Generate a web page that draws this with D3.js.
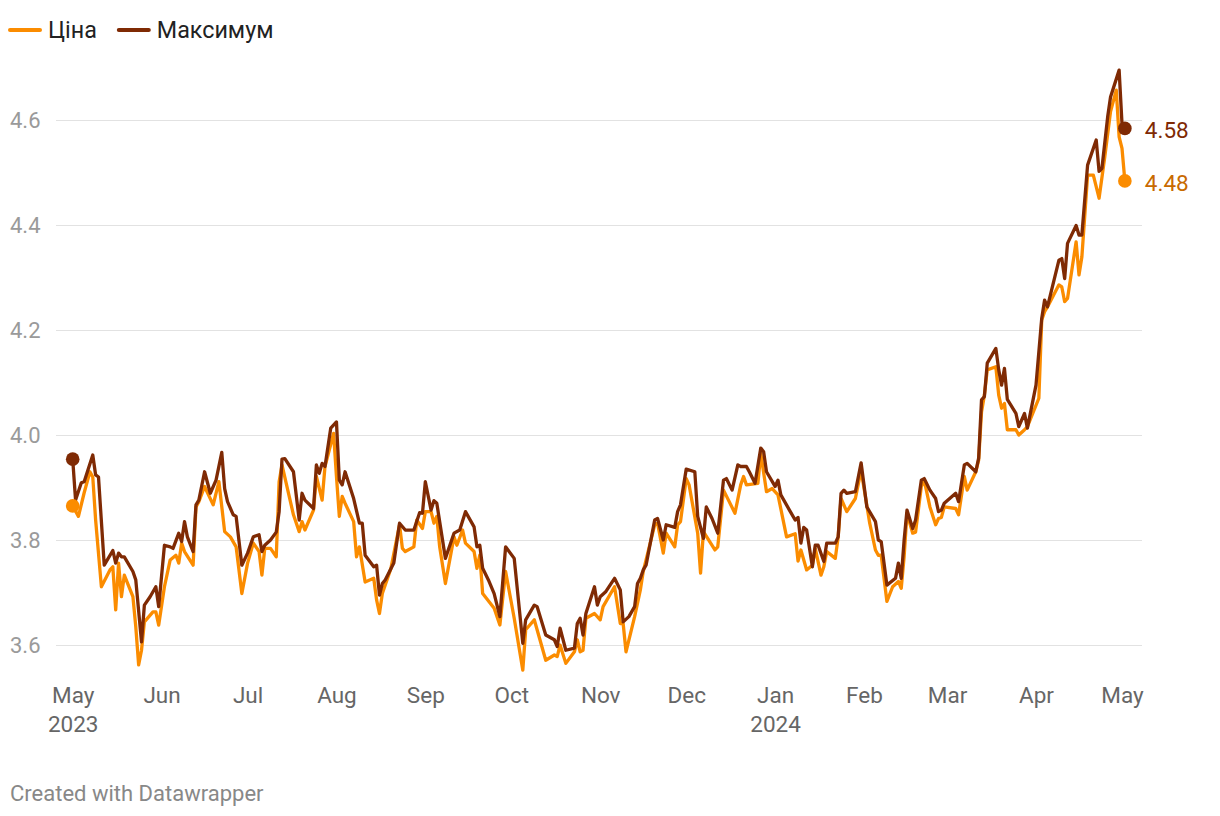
<!DOCTYPE html>
<html><head><meta charset="utf-8">
<script src="https://cdn.jsdelivr.net/npm/d3@7"></script>
<style>
body{margin:0;background:#fff;font-family:Roboto,"Noto Sans",sans-serif;}
svg text{font-family:Roboto,"Noto Sans",sans-serif;}
</style></head><body>
<svg id="chart" width="1220" height="816"></svg>
<script>
const seriesNames = ["Ціна", "Максимум"];
const yTicks = [3.6, 3.8, 4.0, 4.2, 4.4, 4.6];
const xTicks = ["2023-05-01","2023-06-01","2023-07-01","2023-08-01","2023-09-01","2023-10-01","2023-11-01","2023-12-01","2024-01-01","2024-02-01","2024-03-01","2024-04-01","2024-05-01"];
const xTickLabels = ["May","Jun","Jul","Aug","Sep","Oct","Nov","Dec","Jan","Feb","Mar","Apr","May"];
const xTickYears = ["2023","","","","","","","","2024","","","",""];

const maxDates = ["2023-05-01","2023-05-02","2023-05-04","2023-05-05","2023-05-08","2023-05-09","2023-05-10","2023-05-12","2023-05-15","2023-05-16","2023-05-17","2023-05-18","2023-05-19","2023-05-22","2023-05-23","2023-05-25","2023-05-26","2023-05-28","2023-05-30","2023-05-31",
"2023-06-02","2023-06-04","2023-06-05","2023-06-07","2023-06-08","2023-06-09","2023-06-10","2023-06-12","2023-06-13","2023-06-14","2023-06-16","2023-06-18","2023-06-20","2023-06-22","2023-06-23","2023-06-24","2023-06-26","2023-06-27","2023-06-29",
"2023-07-01","2023-07-03","2023-07-05","2023-07-06","2023-07-07","2023-07-09","2023-07-11","2023-07-12","2023-07-13","2023-07-14","2023-07-17","2023-07-19","2023-07-20","2023-07-21","2023-07-24","2023-07-25","2023-07-26","2023-07-27","2023-07-28","2023-07-30",
"2023-08-01","2023-08-02","2023-08-03","2023-08-04","2023-08-07","2023-08-09","2023-08-10","2023-08-11","2023-08-14","2023-08-15","2023-08-16","2023-08-17","2023-08-18","2023-08-21","2023-08-23","2023-08-25","2023-08-28","2023-08-30","2023-08-31",
"2023-09-01","2023-09-03","2023-09-04","2023-09-05","2023-09-08","2023-09-11","2023-09-13","2023-09-15","2023-09-18","2023-09-19","2023-09-20","2023-09-21","2023-09-23","2023-09-25","2023-09-27","2023-09-29",
"2023-10-02","2023-10-05","2023-10-06","2023-10-09","2023-10-10","2023-10-13","2023-10-16","2023-10-17","2023-10-18","2023-10-20","2023-10-23","2023-10-24","2023-10-25","2023-10-26","2023-10-27","2023-10-30","2023-10-31",
"2023-11-01","2023-11-03","2023-11-06","2023-11-08","2023-11-09","2023-11-11","2023-11-13","2023-11-14","2023-11-15","2023-11-16","2023-11-17","2023-11-20","2023-11-21","2023-11-23","2023-11-24","2023-11-27","2023-11-28","2023-11-29",
"2023-12-01","2023-12-04","2023-12-05","2023-12-07","2023-12-08","2023-12-10","2023-12-12","2023-12-14","2023-12-15","2023-12-17","2023-12-19","2023-12-20","2023-12-22","2023-12-23","2023-12-25","2023-12-27","2023-12-28","2023-12-29",
"2024-01-01","2024-01-02","2024-01-03","2024-01-06","2024-01-08","2024-01-09","2024-01-10","2024-01-11","2024-01-12","2024-01-14","2024-01-15","2024-01-16","2024-01-18","2024-01-19","2024-01-22","2024-01-23","2024-01-24","2024-01-25","2024-01-26","2024-01-29","2024-01-31",
"2024-02-02","2024-02-05","2024-02-06","2024-02-07","2024-02-09","2024-02-12","2024-02-13","2024-02-14","2024-02-15","2024-02-16","2024-02-18","2024-02-19","2024-02-21","2024-02-22","2024-02-24","2024-02-26","2024-02-27","2024-02-28","2024-02-29",
"2024-03-04","2024-03-05","2024-03-07","2024-03-08","2024-03-11","2024-03-12","2024-03-13","2024-03-14","2024-03-15","2024-03-18","2024-03-19","2024-03-20","2024-03-21","2024-03-22","2024-03-25","2024-03-26","2024-03-28","2024-03-29",
"2024-04-01","2024-04-03","2024-04-04","2024-04-05","2024-04-09","2024-04-10","2024-04-11","2024-04-12","2024-04-15","2024-04-16","2024-04-17","2024-04-19","2024-04-22","2024-04-23","2024-04-24","2024-04-26","2024-04-27","2024-04-30","2024-05-01","2024-05-02"];
const maxValues = [3.954,3.876,3.909,3.911,3.962,3.924,3.920,3.752,3.780,3.756,3.775,3.768,3.768,3.740,3.724,3.606,3.676,3.692,3.711,3.673,
3.790,3.787,3.784,3.813,3.797,3.835,3.806,3.778,3.867,3.876,3.930,3.889,3.914,3.967,3.898,3.873,3.848,3.845,3.752,
3.775,3.806,3.810,3.778,3.790,3.800,3.815,3.854,3.954,3.955,3.930,3.838,3.889,3.876,3.860,3.943,3.927,3.946,3.940,4.013,
4.025,3.914,3.905,3.930,3.879,3.832,3.832,3.771,3.749,3.752,3.695,3.717,3.724,3.756,3.832,3.819,3.819,3.852,3.851,
3.911,3.857,3.875,3.870,3.765,3.813,3.819,3.854,3.825,3.787,3.790,3.746,3.724,3.698,3.654,3.787,
3.765,3.603,3.648,3.676,3.673,3.619,3.610,3.597,3.632,3.590,3.594,3.641,3.651,3.619,3.660,3.711,3.676,
3.692,3.702,3.727,3.705,3.644,3.654,3.673,3.717,3.727,3.743,3.752,3.838,3.841,3.800,3.829,3.824,3.854,3.867,
3.935,3.930,3.845,3.803,3.863,3.841,3.813,3.914,3.917,3.895,3.943,3.940,3.940,3.930,3.908,3.975,3.968,3.930,
3.902,3.914,3.886,3.857,3.838,3.843,3.794,3.824,3.819,3.749,3.790,3.790,3.759,3.794,3.794,3.806,3.889,3.895,3.889,3.892,3.947,
3.863,3.835,3.800,3.797,3.714,3.727,3.756,3.727,3.800,3.857,3.822,3.838,3.914,3.917,3.895,3.879,3.854,3.857,3.870,
3.889,3.873,3.943,3.946,3.930,3.956,4.067,4.073,4.137,4.165,4.124,4.095,4.127,4.068,4.041,4.016,4.041,4.013,
4.095,4.222,4.257,4.244,4.333,4.336,4.298,4.365,4.399,4.381,4.381,4.514,4.562,4.502,4.508,4.606,4.644,4.695,4.593,4.584];

const priceDates = ["2023-05-01","2023-05-03","2023-05-05","2023-05-07","2023-05-08","2023-05-09","2023-05-11","2023-05-14","2023-05-15","2023-05-16","2023-05-17","2023-05-18","2023-05-19","2023-05-22","2023-05-23","2023-05-24","2023-05-25","2023-05-26","2023-05-29","2023-05-30","2023-05-31",
"2023-06-02","2023-06-04","2023-06-06","2023-06-07","2023-06-08","2023-06-09","2023-06-12","2023-06-13","2023-06-14","2023-06-16","2023-06-19","2023-06-21","2023-06-23","2023-06-25","2023-06-27","2023-06-29",
"2023-07-01","2023-07-03","2023-07-05","2023-07-06","2023-07-07","2023-07-09","2023-07-11","2023-07-12","2023-07-13","2023-07-17","2023-07-19","2023-07-20","2023-07-21","2023-07-24","2023-07-25","2023-07-27","2023-07-28","2023-07-31",
"2023-08-01","2023-08-02","2023-08-03","2023-08-04","2023-08-07","2023-08-08","2023-08-09","2023-08-11","2023-08-14","2023-08-15","2023-08-16","2023-08-17","2023-08-20","2023-08-23","2023-08-24","2023-08-25","2023-08-28","2023-08-29","2023-08-31",
"2023-09-01","2023-09-03","2023-09-04","2023-09-05","2023-09-06","2023-09-08","2023-09-11","2023-09-12","2023-09-14","2023-09-15","2023-09-18","2023-09-19","2023-09-20","2023-09-21","2023-09-25","2023-09-27","2023-09-29",
"2023-10-02","2023-10-05","2023-10-06","2023-10-09","2023-10-13","2023-10-16","2023-10-17","2023-10-18","2023-10-20","2023-10-23","2023-10-24","2023-10-25","2023-10-26","2023-10-27","2023-10-30",
"2023-11-01","2023-11-02","2023-11-06","2023-11-08","2023-11-09","2023-11-10","2023-11-13","2023-11-15","2023-11-16","2023-11-17","2023-11-20","2023-11-21","2023-11-23","2023-11-24","2023-11-27","2023-11-28","2023-11-29",
"2023-12-01","2023-12-02","2023-12-05","2023-12-06","2023-12-07","2023-12-11","2023-12-12","2023-12-14","2023-12-18","2023-12-20","2023-12-21","2023-12-22","2023-12-26","2023-12-27","2023-12-29","2023-12-31",
"2024-01-02","2024-01-05","2024-01-08","2024-01-09","2024-01-10","2024-01-12","2024-01-14","2024-01-15","2024-01-17","2024-01-18","2024-01-19","2024-01-22","2024-01-23","2024-01-24","2024-01-26","2024-01-29","2024-01-31",
"2024-02-03","2024-02-05","2024-02-06","2024-02-07","2024-02-09","2024-02-11","2024-02-13","2024-02-14","2024-02-15","2024-02-16","2024-02-18","2024-02-19","2024-02-21","2024-02-22","2024-02-24","2024-02-26","2024-02-27","2024-02-28","2024-02-29",
"2024-03-04","2024-03-05","2024-03-07","2024-03-08","2024-03-11","2024-03-12","2024-03-13","2024-03-14","2024-03-15","2024-03-18","2024-03-19","2024-03-20","2024-03-21","2024-03-22","2024-03-25","2024-03-26","2024-03-28","2024-03-29",
"2024-04-02","2024-04-03","2024-04-04","2024-04-05","2024-04-09","2024-04-10","2024-04-11","2024-04-12","2024-04-15","2024-04-16","2024-04-17","2024-04-19","2024-04-21","2024-04-23","2024-04-25","2024-04-27","2024-04-29","2024-04-30","2024-05-01","2024-05-02"];
const priceValues = [3.865,3.845,3.890,3.930,3.920,3.838,3.711,3.743,3.749,3.667,3.756,3.692,3.733,3.692,3.635,3.562,3.590,3.644,3.663,3.663,3.638,
3.711,3.762,3.771,3.756,3.794,3.778,3.752,3.863,3.873,3.902,3.867,3.911,3.816,3.806,3.787,3.698,
3.756,3.794,3.778,3.733,3.784,3.784,3.768,3.911,3.943,3.848,3.816,3.835,3.819,3.857,3.921,3.876,3.940,4.003,
3.921,3.845,3.883,3.870,3.835,3.768,3.787,3.720,3.727,3.686,3.660,3.698,3.746,3.829,3.784,3.778,3.787,3.838,3.822,
3.854,3.854,3.832,3.845,3.787,3.717,3.806,3.790,3.819,3.794,3.778,3.746,3.771,3.698,3.670,3.638,3.740,
3.651,3.552,3.629,3.648,3.571,3.581,3.578,3.600,3.565,3.587,3.610,3.587,3.590,3.651,3.660,
3.648,3.673,3.711,3.641,3.641,3.587,3.654,3.705,3.740,3.762,3.829,3.832,3.775,3.813,3.787,3.829,3.835,
3.917,3.905,3.813,3.737,3.816,3.781,3.787,3.895,3.851,3.905,3.921,3.905,3.908,3.965,3.892,3.898,
3.886,3.806,3.812,3.760,3.781,3.743,3.752,3.784,3.733,3.749,3.778,3.765,3.806,3.879,3.854,3.879,3.933,
3.832,3.781,3.771,3.771,3.683,3.711,3.721,3.708,3.768,3.851,3.813,3.815,3.902,3.914,3.863,3.829,3.841,3.843,3.863,
3.860,3.848,3.921,3.895,3.930,3.952,4.044,4.076,4.124,4.130,4.076,4.051,4.060,4.010,4.010,4.000,4.010,4.016,
4.070,4.219,4.235,4.244,4.286,4.282,4.254,4.260,4.368,4.305,4.339,4.495,4.495,4.451,4.530,4.616,4.657,4.568,4.546,4.484];

const colors = {price: "#fb8c00", max: "#7f2a04", priceLabel: "#c86a00"};

const parse = d3.utcParse("%Y-%m-%d");
const priceData = priceDates.map((d,i)=>({date: parse(d), value: priceValues[i]}));
const maxData = maxDates.map((d,i)=>({date: parse(d), value: maxValues[i]}));

const svg = d3.select("#chart");
const x = d3.scaleUtc().domain([parse(xTicks[0]), parse(xTicks[xTicks.length-1])]).range([72.7, 1122]);
const y = d3.scaleLinear().domain([3.6, 4.6]).range([645, 120]);

// grid + y labels
const yAxis = d3.axisLeft(y).tickValues(yTicks).tickFormat(d3.format(".1f")).tickSize(-(1142-56)).tickPadding(10);
const gy = svg.append("g").attr("transform","translate(56,0)").call(yAxis);
gy.select(".domain").remove();
gy.selectAll(".tick line").attr("stroke","#e2e2e2").attr("stroke-width",1);
gy.selectAll(".tick text").attr("fill","#9a9a9a").attr("font-size",22).attr("text-anchor","start").attr("x",-46).attr("dy","0.35em");

// x axis
const xAxis = d3.axisBottom(x).tickValues(xTicks.map(parse)).tickFormat((d,i)=>xTickLabels[i]).tickSize(0).tickPadding(0);
const gx = svg.append("g").attr("transform","translate(0,682)").call(xAxis);
gx.select(".domain").remove();
gx.selectAll(".tick text").attr("fill","#666").attr("font-size",22.5).attr("dy","0.71em").attr("y",5);
gx.selectAll(".tick").each(function(d,i){
  if (xTickYears[i]) d3.select(this).append("text").attr("fill","#666").attr("font-size",22.5).attr("text-anchor","middle").attr("y",34).attr("dy","0.71em").text(xTickYears[i]);
});

const line = d3.line().x(d=>x(d.date)).y(d=>y(d.value));
svg.append("path").datum(priceData).attr("d",line).attr("fill","none").attr("stroke",colors.price).attr("stroke-width",3.3).attr("stroke-linejoin","round");
svg.append("path").datum(maxData).attr("d",line).attr("fill","none").attr("stroke",colors.max).attr("stroke-width",3.3).attr("stroke-linejoin","round");

// dots
[[priceData,colors.price],[maxData,colors.max]].forEach(([data,c])=>{
  [data[0], data[data.length-1]].forEach(p=>{
    svg.append("circle").attr("cx",x(p.date)).attr("cy",y(p.value)).attr("r",6.8).attr("fill",c);
  });
});
// end labels
const lp = priceData[priceData.length-1], lm = maxData[maxData.length-1];
svg.append("text").attr("x",x(lm.date)+20).attr("y",y(lm.value)+2).attr("dy","0.35em").attr("font-size",22.5).attr("fill",colors.max).text(d3.format(".2f")(lm.value));
svg.append("text").attr("x",x(lp.date)+20).attr("y",y(lp.value)+2).attr("dy","0.35em").attr("font-size",22.5).attr("fill",colors.priceLabel).text(d3.format(".2f")(lp.value));

// legend
const legend = svg.append("g").attr("transform","translate(10,30)");
let lx = 0;
[[seriesNames[0],colors.price],[seriesNames[1],colors.max]].forEach(([name,c])=>{
  legend.append("line").attr("x1",lx).attr("x2",lx+30).attr("y1",0).attr("y2",0).attr("stroke",c).attr("stroke-width",4).attr("stroke-linecap","round");
  const t = legend.append("text").attr("x",lx+38).attr("y",0).attr("dy","0.35em").attr("font-size",23.3).attr("fill","#222").text(name);
  lx += 38 + t.node().getComputedTextLength() + 22;
});

// footer
svg.append("text").attr("x",10).attr("y",793).attr("dy","0.35em").attr("font-size",22).attr("fill","#888").text("Created with Datawrapper");
</script>
</body></html>
